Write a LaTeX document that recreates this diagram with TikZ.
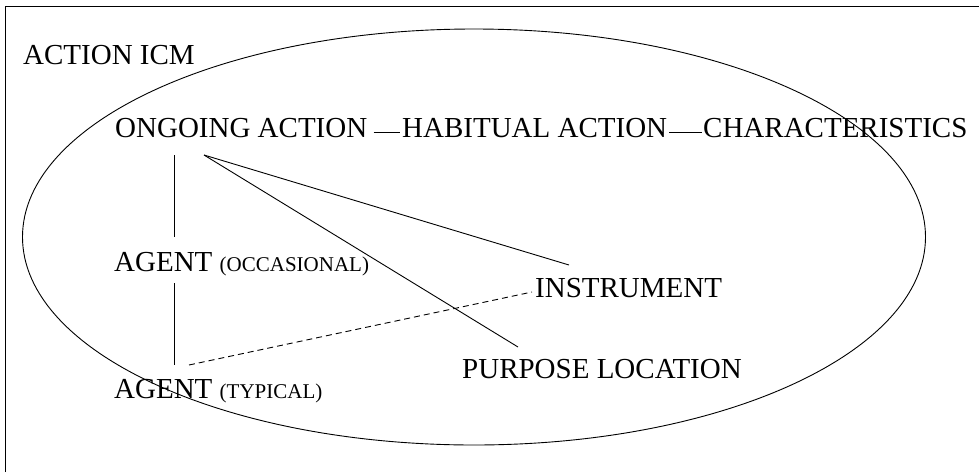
\documentclass[tikz,border=0pt]{standalone}
\usepackage{fontspec}
\setmainfont{Liberation Serif}

\begin{document}
\begin{tikzpicture}[x=1pt,y=-1pt,
    every node/.style={inner sep=0pt,anchor=base west,font=\fontsize{29}{33}\selectfont},
    link/.style={line width=0.9pt},
    weak/.style={line width=0.9pt,dash pattern=on 6pt off 4pt}]
    \useasboundingbox (0,0) rectangle (979,472);
    \newcommand{\sm}[1]{{\fontsize{21}{24}\selectfont #1}}

    \draw[line width=1pt] (5,472) -- (5,6) -- (979,6);
    \draw[line width=0.9pt] (474,237) ellipse [x radius=451.5pt, y radius=208pt];

    \node (icm) at (23,64) {ACTION ICM};
    \node (ong) at (115,137) {ONGOING ACTION};
    \node (hab) at (402,137) {HABITUAL ACTION};
    \node (char) at (703,137) {CHARACTERISTICS};
    \node (agocc) at (114,271) {AGENT \sm{(OCCASIONAL)}};
    \node (agtyp) at (114,398) {AGENT \sm{(TYPICAL)}};
    \node (instr) at (535,297) {INSTRUMENT};
    \node (purp) at (462,378) {PURPOSE LOCATION};

    \path[link] ([shift={(6,-5)}]ong.base east) edge ([shift={(-2,-5)}]hab.base west);
    \path[link] ([shift={(2,-5)}]hab.base east) edge ([shift={(-1,-5)}]char.base west);

    \path[link] ([shift={(59,18)}]ong.base west) edge ([shift={(60,-34)}]agocc.base west);
    \path[link] ([shift={(60,12)}]agocc.base west) edge ([shift={(60,-33)}]agtyp.base west);
    \path[link] ([shift={(89,18)}]ong.base west) edge ([shift={(34,-32)}]instr.base west);
    \path[link] ([shift={(89,18)}]ong.base west) edge ([shift={(56,-31)}]purp.base west);

    \path[weak] ([shift={(75,-33)}]agtyp.base west) edge ([shift={(-3,-5)}]instr.base west);
  \end{tikzpicture}
\end{document}
